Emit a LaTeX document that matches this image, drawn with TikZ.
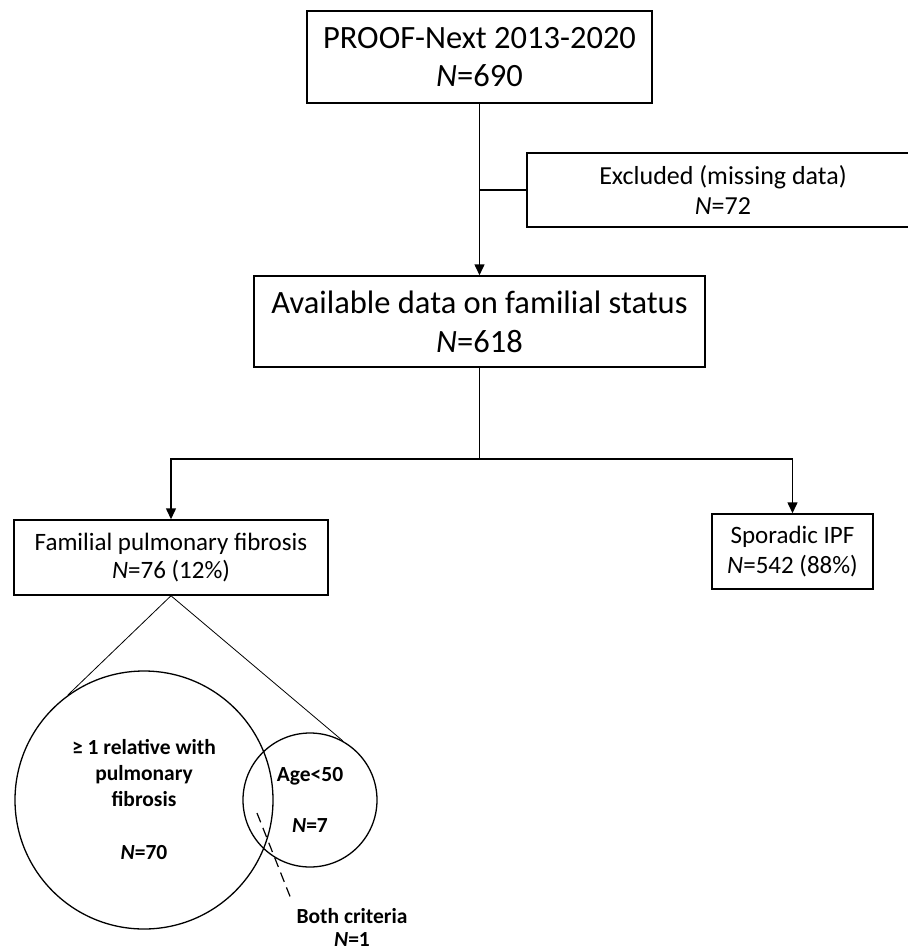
\documentclass[tikz,border=0pt]{standalone}
\usepackage{fontspec}
\setmainfont{Carlito}
\usetikzlibrary{positioning, arrows.meta}

\begin{document}
\begin{tikzpicture}[x=1pt, y=-1pt,
    box/.style={draw, line width=1.5pt, align=center, inner sep=0pt},
    flow/.style={line width=1.5pt, -{Triangle[length=11pt,width=10pt]}},
    venn/.style={draw, circle, line width=1.3pt, inner sep=0pt, align=center,
                 font=\bfseries\fontsize{21.5}{26}\selectfont}]

\useasboundingbox (0,0) rectangle (908,951);

%% flow chart boxes
\node[box, minimum width=345pt, minimum height=92pt, font=\fontsize{32.5}{38}\selectfont]
    (cohort) at (479.5,57) {PROOF-Next 2013-2020\\\textit{N}=690};
\node[box, minimum width=392pt, minimum height=74pt, font=\fontsize{26}{30}\selectfont]
    (excl) at (723,190) {Excluded (missing data)\\\textit{N}=72};
\node[box, minimum width=451pt, minimum height=91pt, font=\fontsize{32.5}{39}\selectfont]
    (avail) at (479.5,321.5) {Available data on familial status\\\textit{N}=618};
\node[box, minimum width=314pt, minimum height=75pt, font=\fontsize{25}{28}\selectfont]
    (fam) at (171,557.5) {Familial pulmonary fibrosis\\\textit{N}=76 (12\%)};
\node[box, minimum width=161pt, minimum height=75pt, font=\fontsize{25}{30}\selectfont]
    (spor) at (792.5,551.5) {Sporadic IPF\\\textit{N}=542 (88\%)};

%% arrows
\draw[flow] (cohort) -- (avail);
\draw[line width=1.5pt] (excl.west) -- (excl.west -| cohort.south);
\coordinate (split) at (479.5,459);
\draw[line width=1.5pt] (avail) -- (split);
\draw[flow] (split) -| (fam);
\draw[flow] (split) -| (spor);

%% venn diagram
\node[venn, minimum size=258pt] (relcirc) at (144,800)
    {≥ 1 relative with\\pulmonary\\fibrosis\\[27pt]\textit{N}=70};
\node[venn, minimum size=134pt] (agecirc) at (310,800)
    {Age<50\\[25pt]\textit{N}=7};
\draw[line width=0.8pt] (fam.south) -- (relcirc.126);
\draw[line width=0.8pt] (fam.south) -- (agecirc.61);

% overlap
\node[align=center, inner sep=3pt, font=\bfseries\fontsize{21.5}{23}\selectfont]
    (both) at (352,927) {Both criteria\\\textit{N}=1};
\coordinate (lap) at (257,813);
\draw[line width=1.2pt, dash pattern=on 10pt off 6pt, shorten >=9pt] (lap) -- (both.north west);

\end{tikzpicture}
\end{document}
